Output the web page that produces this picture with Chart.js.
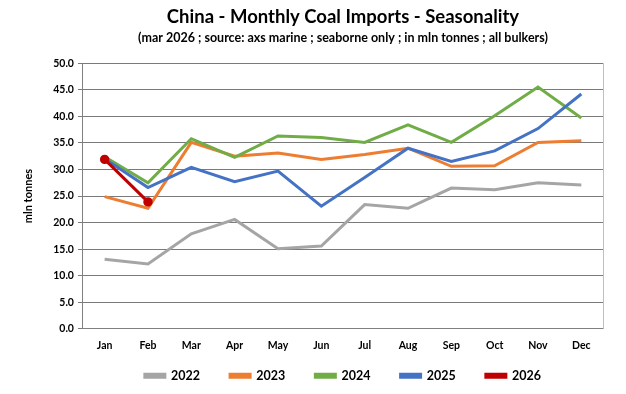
<!DOCTYPE html>
<html>
<head>
<meta charset="utf-8">
<script src="https://cdn.jsdelivr.net/npm/chart.js@4"></script>
<style>
  html, body { margin: 0; padding: 0; background: #fff; }
  #wrap { width: 626px; height: 394px; }
</style>
</head>
<body>
<div id="wrap"><canvas id="coalChart" width="626" height="394"></canvas></div>
<script>
const months = ['Jan', 'Feb', 'Mar', 'Apr', 'May', 'Jun', 'Jul', 'Aug', 'Sep', 'Oct', 'Nov', 'Dec'];
const imports2022 = [13.1, 12.2, 17.9, 20.6, 15.1, 15.6, 23.4, 22.7, 26.5, 26.2, 27.5, 27.1];
const imports2023 = [24.9, 22.7, 35.1, 32.5, 33.1, 31.9, 32.8, 34.0, 30.6, 30.7, 35.1, 35.4];
const imports2024 = [32.4, 27.5, 35.8, 32.3, 36.3, 36.0, 35.1, 38.4, 35.1, 40.1, 45.5, 39.7];
const imports2025 = [32.0, 26.6, 30.4, 27.7, 29.7, 23.1, 28.5, 34.0, 31.5, 33.5, 37.7, 44.2];
const imports2026 = [31.9, 23.9];
const yTicks = { min: 0, max: 50, step: 5 };

const font = 'Lato, "Open Sans", sans-serif';

function series(label, data, color, order, points) {
  return {
    label,
    data,
    borderColor: color,
    backgroundColor: color,
    borderWidth: 3,
    pointRadius: points ? 3.2 : 0,
    pointHoverRadius: points ? 3.2 : 0,
    pointBackgroundColor: color,
    pointBorderColor: color,
    tension: 0,
    order,
  };
}

// centre title, subtitle and legend on the plot area, lift legend a bit
const alignToPlot = {
  id: 'alignToPlot',
  afterLayout(chart) {
    const area = chart.chartArea;
    chart.boxes.forEach(box => {
      if (box.position === 'top' && box.options && box.options.text !== undefined) {
        box.left = area.left;
        box.right = area.right;
      }
    });
    const lg = chart.legend;
    lg.left = area.left;
    lg.right = area.right;
    lg.top -= 22;
    lg.bottom -= 22;
  },
  afterDraw(chart) {
    const { ctx, chartArea } = chart;
    ctx.save();
    ctx.strokeStyle = '#bfbfbf';
    ctx.lineWidth = 1;
    ctx.beginPath();
    ctx.moveTo(chartArea.right + 0.5, chartArea.top);
    ctx.lineTo(chartArea.right + 0.5, chartArea.bottom);
    ctx.stroke();
    ctx.restore();
  },
};

const ctx = document.getElementById('coalChart').getContext('2d');
new Chart(ctx, {
  type: 'line',
  data: {
    labels: months,
    datasets: [
      series('2022', imports2022, '#a5a5a5', 5, false),
      series('2023', imports2023, '#ed7d31', 4, false),
      series('2024', imports2024, '#70ad47', 3, false),
      series('2025', imports2025, '#4472c4', 2, false),
      series('2026', imports2026, '#c00000', 1, true),
    ],
  },
  options: {
    responsive: false,
    animation: false,
    layout: { padding: { left: 18, right: 23, top: 4, bottom: -20 } },
    plugins: {
      title: {
        display: true,
        text: 'China - Monthly Coal Imports - Seasonality',
        color: '#000',
        font: { family: font, size: 18.5, weight: 'bold' },
        padding: { top: 2, bottom: 2 },
      },
      subtitle: {
        display: true,
        text: '(mar 2026 ; source: axs marine ; seaborne only ; in mln tonnes ; all bulkers)',
        color: '#000',
        font: { family: font, size: 12.5, weight: 'bold' },
        padding: { top: 0, bottom: 18 },
      },
      legend: {
        position: 'bottom',
        labels: {
          color: '#000',
          font: { family: font, size: 12.5, weight: 'bold' },
          boxWidth: 20,
          boxHeight: 3,
          padding: 30,
          sort: (a, b) => a.datasetIndex - b.datasetIndex,
        },
      },
      tooltip: { enabled: false },
    },
    scales: {
      x: {
        offset: true,
        grid: { display: false, drawTicks: false },
        border: { color: '#808080', width: 1 },
        ticks: { color: '#000', font: { family: font, size: 10.5, weight: 'bold' }, padding: 10, maxRotation: 0 },
      },
      y: {
        min: yTicks.min,
        max: yTicks.max,
        grid: { color: '#7a7a7a', lineWidth: 1, tickLength: 5 },
        border: { color: '#808080', width: 1 },
        ticks: {
          stepSize: yTicks.step,
          color: '#000',
          font: { family: font, size: 10.5, weight: 'bold' },
          padding: 4,
          callback: v => v.toFixed(1),
        },
        title: {
          display: true,
          text: 'mln tonnes',
          color: '#000',
          font: { family: font, size: 11, weight: 'bold' },
          padding: { bottom: 14 },
        },
      },
    },
  },
  plugins: [alignToPlot],
});
</script>
</body>
</html>
